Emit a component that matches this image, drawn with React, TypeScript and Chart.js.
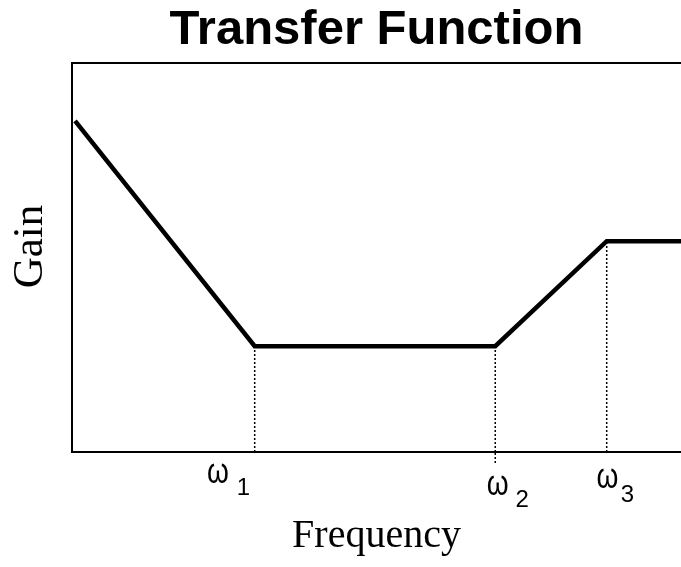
import React, { useEffect, useRef } from 'react';
import { Chart, registerables } from 'chart.js';

Chart.register(...registerables);

// ---- data ----
const chartTitle = 'Transfer Function';
const xAxisTitle = 'Frequency';
const yAxisTitle = 'Gain';
const curveFreq = [0.05, 3.0, 6.95, 8.78, 10];
const curveGain = [8.51, 2.72, 2.72, 5.42, 5.42];
const cornerFreqs = [3.0, 6.95, 8.78];
const cornerGains = [2.72, 2.72, 5.42];
const cornerSymbols = ['ω', 'ω', 'ω'];
const cornerSubscripts = ['1', '2', '3'];

// ---- label styling (offsets in px relative to marker x / axis bottom) ----
const labelStyle = [
  { symDx: -36.8, symDy: 31, subDx: -11.3, subDy: 43, dropBelow: 0 },
  { symDx: 2.5, symDy: 43, subDx: 27, subDy: 55, dropBelow: 13 },
  { symDx: 0.8, symDy: 36, subDx: 20.8, subDy: 50, dropBelow: 0 },
];

const annotationPlugin = {
  id: 'annotations',
  afterDraw(chart: any) {
    const { ctx, chartArea } = chart;
    const xs = chart.scales.x;
    ctx.save();
    ctx.fillStyle = '#000';
    ctx.strokeStyle = '#000';
    // y-axis title
    ctx.save();
    ctx.translate(30.5, 246.5);
    ctx.rotate(-Math.PI / 2);
    ctx.textAlign = 'center';
    ctx.textBaseline = 'middle';
    ctx.font = '43px "Liberation Serif", "Times New Roman", serif';
    ctx.fillText(yAxisTitle, 0, 0);
    ctx.restore();
    // corner labels
    ctx.textAlign = 'center';
    ctx.textBaseline = 'alphabetic';
    cornerFreqs.forEach((f, i) => {
      const px = xs.getPixelForValue(f);
      const st = labelStyle[i];
      ctx.save();
      ctx.translate(px + st.symDx, chartArea.bottom + st.symDy);
      ctx.scale(1.0, 1.25);
      ctx.font = '28px "Liberation Sans", Arial, sans-serif';
      ctx.fillText(cornerSymbols[i], 0, 0);
      ctx.restore();
      ctx.font = '24px "Liberation Sans", Arial, sans-serif';
      ctx.fillText(cornerSubscripts[i], px + st.subDx, chartArea.bottom + st.subDy);
      if (st.dropBelow > 0) {
        ctx.save();
        ctx.lineWidth = 1.5;
        ctx.setLineDash([2, 2]);
        ctx.beginPath();
        ctx.moveTo(px, chartArea.bottom + 1);
        ctx.lineTo(px, chartArea.bottom + st.dropBelow);
        ctx.stroke();
        ctx.restore();
      }
    });
    ctx.restore();
  },
};

export default function App() {
  const ref = useRef<HTMLCanvasElement>(null);
  useEffect(() => {
    document.body.style.margin = '0';
    const canvas = ref.current;
    if (!canvas) return;
    const dropSets = cornerFreqs.map((f, i) => ({
      data: [
        { x: f, y: 0 },
        { x: f, y: cornerGains[i] },
      ],
      borderColor: '#000',
      borderWidth: 1.5,
      borderDash: [2, 2],
      pointRadius: 0,
      order: 1,
    }));
    const chart = new Chart(canvas, {
      type: 'line',
      data: {
        datasets: [
          {
            data: curveFreq.map((x, i) => ({ x, y: curveGain[i] })),
            borderColor: '#000',
            borderWidth: 4.5,
            borderJoinStyle: 'miter',
            borderCapStyle: 'butt',
            pointRadius: 0,
            tension: 0,
            order: 0,
          } as any,
          ...dropSets,
        ],
      },
      options: {
        animation: false,
        responsive: false,
        devicePixelRatio: 1,
        layout: { padding: { left: 72, top: 0, right: 0, bottom: 0 } },
        plugins: {
          legend: { display: false },
          tooltip: { enabled: false },
          title: {
            display: true,
            text: chartTitle,
            fullSize: false,
            color: '#000',
            font: { family: '"Liberation Sans", Arial, sans-serif', size: 49, weight: 'bold', lineHeight: 1.15 },
            padding: { top: 2.5, bottom: 4.15 },
          },
        },
        scales: {
          x: {
            type: 'linear',
            position: 'bottom',
            min: 0,
            max: 10,
            ticks: { display: false },
            grid: { display: false, drawTicks: false },
            border: { display: true, color: '#000', width: 2 },
            title: {
              display: true,
              text: xAxisTitle,
              color: '#000',
              font: { family: '"Liberation Serif", "Times New Roman", serif', size: 40 },
              padding: { top: 60.5, bottom: 6.5 },
            },
          },
          x2: {
            type: 'linear',
            position: 'top',
            min: 0,
            max: 10,
            ticks: { display: false },
            grid: { display: false, drawTicks: false },
            border: { display: true, color: '#000', width: 2 },
          },
          y: {
            type: 'linear',
            position: 'left',
            min: 0,
            max: 10,
            ticks: { display: false },
            grid: { display: false, drawTicks: false },
            border: { display: true, color: '#000', width: 2 },
          },
        },
      } as any,
      plugins: [annotationPlugin],
    });
    return () => chart.destroy();
  }, []);
  return (
    <canvas
      ref={ref}
      width={681}
      height={567}
      style={{ display: 'block', width: 681, height: 567 }}
    />
  );
}
